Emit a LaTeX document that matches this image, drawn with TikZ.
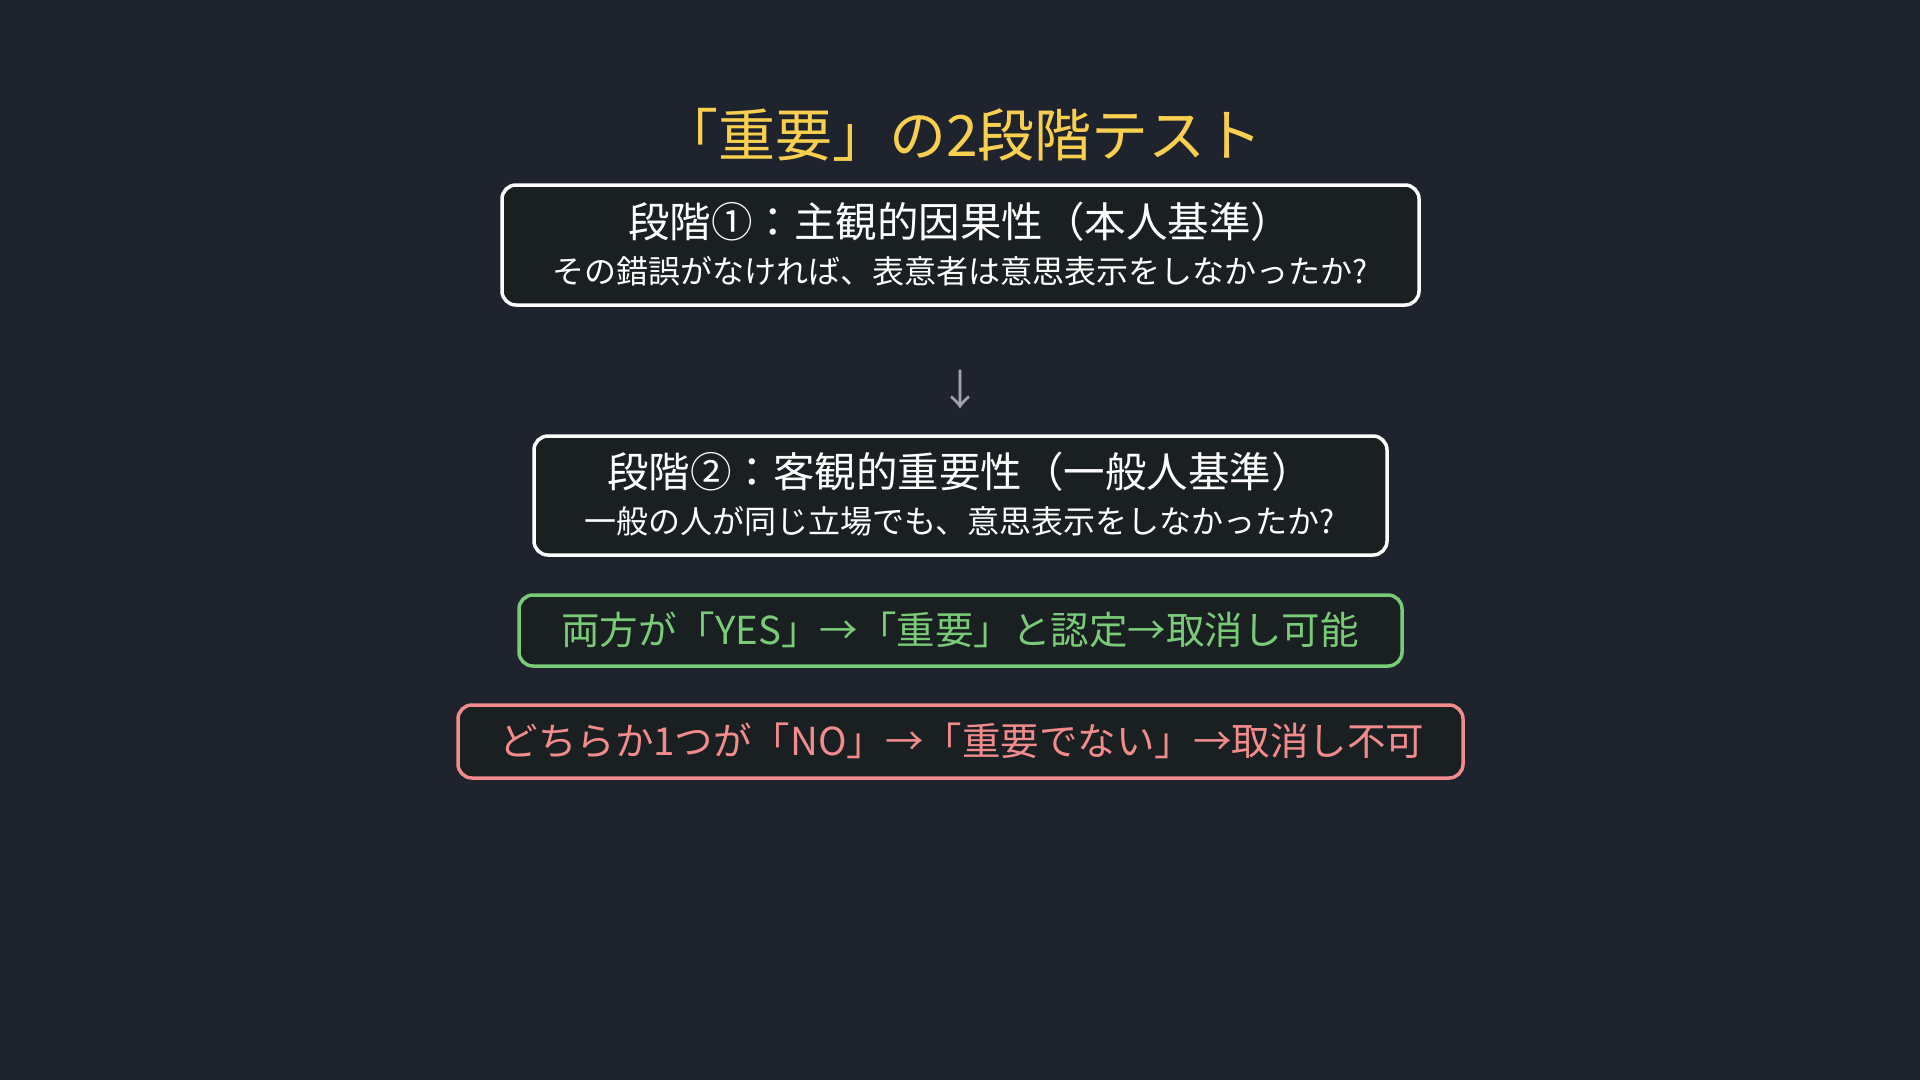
\documentclass[tikz,border=0pt]{standalone}
\usepackage{fontspec}
\setmainfont{Noto Sans CJK JP}
\definecolor{bgc}{HTML}{1E232D}
\definecolor{boxfill}{HTML}{1A1F22}
\definecolor{titlec}{HTML}{F9CF4F}
\definecolor{greenc}{HTML}{79CB77}
\definecolor{redc}{HTML}{F28C8C}
\definecolor{arrowc}{HTML}{A0A4AA}
\begin{document}
\begin{tikzpicture}[x=1pt,y=1pt,
  card/.style={draw=white, line width=3.5pt, fill=boxfill, rounded corners=14pt, inner sep=0pt},
  gcard/.style={card, draw=greenc},
  rcard/.style={card, draw=redc},
  head/.style={text=white, inner sep=0pt, font=\fontsize{41.5}{48}\selectfont},
  sub/.style={text=white, inner sep=0pt, font=\fontsize{32}{38}\selectfont},
  ttl/.style={text=titlec, inner sep=0pt, font=\fontsize{57}{66}\selectfont},
]
\fill[bgc] (0,0) rectangle (1920,-1080);
\useasboundingbox (0,0) rectangle (1920,-1080);

\node[ttl] (title) at (962,-135) {「重要」の2段階テスト};

\node[card, minimum width=917, minimum height=120] (b1) at (960.5,-245) {};
\node[head] (b1h) at (960,-222) {段階①：主観的因果性（本人基準）};
\node[sub] (b1s) at (960,-271) {その錯誤がなければ、表意者は意思表示をしなかったか?};

\node[text=arrowc, inner sep=0pt, font=\fontsize{42}{48}\selectfont] (arr) at (960,-390) {↓};

\node[card, minimum width=853, minimum height=119] (b2) at (960.5,-495.5) {};
\node[head] (b2h) at (960,-472) {段階②：客観的重要性（一般人基準）};
\node[sub] (b2s) at (960,-521) {一般の人が同じ立場でも、意思表示をしなかったか?};

\node[gcard, minimum width=883, minimum height=71] (g) at (960.5,-630.5) {};
\node[text=greenc, inner sep=0pt, font=\fontsize{38.5}{46}\selectfont] (gt) at (960,-630) {両方が「YES」→「重要」と認定→取消し可能};

\node[rcard, minimum width=1005, minimum height=73] (r) at (960.5,-741.5) {};
\node[text=redc, inner sep=0pt, font=\fontsize{38.5}{46}\selectfont] (rt) at (962,-741) {どちらか1つが「NO」→「重要でない」→取消し不可};
\end{tikzpicture}
\end{document}
